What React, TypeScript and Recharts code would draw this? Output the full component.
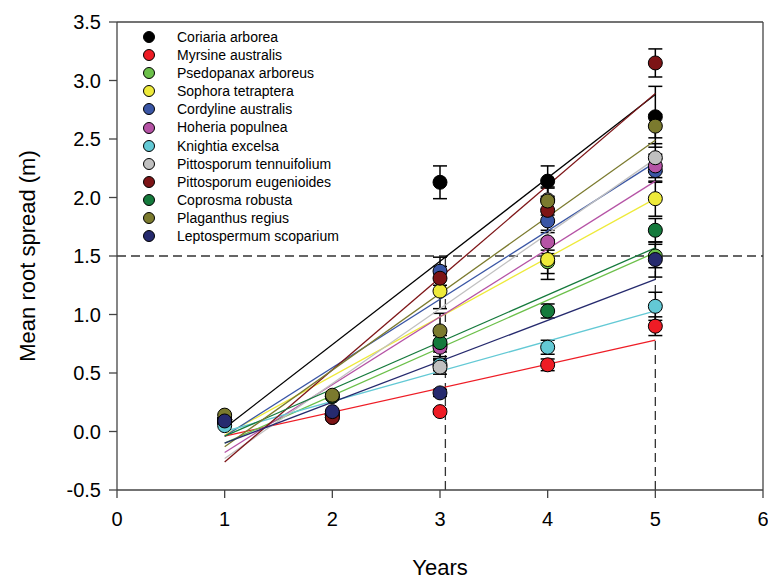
import { ComposedChart, Scatter, XAxis, YAxis, ErrorBar, ReferenceLine, Label } from "recharts";

const years = [1, 2, 3, 4, 5];
const species = [
  "Coriaria arborea",
  "Myrsine australis",
  "Psedopanax arboreus",
  "Sophora tetraptera",
  "Cordyline australis",
  "Hoheria populnea",
  "Knightia excelsa",
  "Pittosporum tennuifolium",
  "Pittosporum eugenioides",
  "Coprosma robusta",
  "Plaganthus regius",
  "Leptospermum scoparium",
];
const colors = [
  "#000000", "#ee1c25", "#6cc04a", "#eeea3a", "#3a56a5", "#b553a5",
  "#63c9d5", "#c0c0c0", "#7d1416", "#157a3c", "#7b7a2e", "#262a6e",
];
// mean root spread per species, years 1..5 (null = not measured)
const means: (number | null)[][] = [
  [0.10, 0.15, 2.13, 2.14, 2.69],
  [0.08, 0.12, 0.17, 0.57, 0.90],
  [0.08, 0.30, 0.74, 1.45, 1.50],
  [0.10, 0.15, 1.20, 1.47, 1.99],
  [0.10, 0.15, 1.37, 1.80, 2.23],
  [0.08, 0.14, 0.72, 1.62, 2.27],
  [0.05, 0.15, 0.57, 0.72, 1.07],
  [0.10, 0.14, 0.55, 1.98, 2.34],
  [0.10, 0.12, 1.31, 1.89, 3.15],
  [0.10, 0.30, 0.76, 1.03, 1.72],
  [0.14, 0.31, 0.86, 1.97, 2.61],
  [0.09, 0.17, 0.33, null, 1.47],
];
const errors: number[][] = [
  [0, 0, 0.14, 0.13, 0.26],
  [0, 0, 0.02, 0.05, 0.08],
  [0, 0, 0.10, 0.10, 0.10],
  [0, 0, 0.15, 0.17, 0.15],
  [0, 0, 0.12, 0.10, 0.10],
  [0, 0, 0.10, 0.10, 0.10],
  [0, 0, 0.05, 0.06, 0.12],
  [0, 0, 0.06, 0.10, 0.12],
  [0, 0, 0.10, 0.10, 0.12],
  [0, 0, 0.08, 0.06, 0.10],
  [0, 0, 0.15, 0.12, 0.10],
  [0, 0, 0.03, 0, 0.15],
];
// fitted regression lines, value at year 1 and year 5
const fitStart = [0.03, -0.04, -0.1, -0.03, -0.04, -0.18, 0.0, -0.23, -0.26, -0.04, -0.13, -0.1];
const fitEnd = [2.88, 0.78, 1.53, 1.99, 2.30, 2.14, 1.03, 2.33, 2.89, 1.57, 2.49, 1.30];
const xTicks = [0, 1, 2, 3, 4, 5, 6];
const yTicks = [-0.5, 0, 0.5, 1, 1.5, 2, 2.5, 3, 3.5];

const FONT = "'Liberation Sans', Arial, sans-serif";
const AXIS = "#444";

const pointSets = species.map((_, i) =>
  years
    .map((yr, j) => ({ x: yr, y: means[i][j], e: errors[i][j] }))
    .filter((p) => p.y !== null)
);
const lineSets = species.map((_, i) => [
  { x: years[0], y: fitStart[i] },
  { x: years[years.length - 1], y: fitEnd[i] },
]);

const noShape = () => <g />;

export default function App() {
  return (
    <div style={{ position: "absolute", left: 0, top: 0, width: 768, height: 581, fontFamily: FONT }}>
      <ComposedChart width={768} height={581} margin={{ top: 22, right: 5, left: 0, bottom: 0 }}>
        <XAxis
          type="number"
          dataKey="x"
          domain={[0, 6]}
          ticks={xTicks}
          allowDataOverflow
          height={91}
          stroke={AXIS}
          strokeWidth={1.3}
          tickSize={8}
          tickMargin={14}
          tick={{ fontSize: 20, fill: "#000", fontFamily: FONT }}
        >
          <Label value="Years" position="insideBottom" offset={6} style={{ fontSize: 22, fill: "#000", fontFamily: FONT }} />
        </XAxis>
        <YAxis
          type="number"
          dataKey="y"
          domain={[-0.5, 3.5]}
          ticks={yTicks}
          allowDataOverflow
          width={117}
          stroke={AXIS}
          strokeWidth={1.3}
          tickSize={8}
          tickMargin={8}
          tickFormatter={(v: number) => v.toFixed(1)}
          tick={{ fontSize: 20, fill: "#000", fontFamily: FONT }}
        >
          <Label
            content={() => (
              <text
                x={27}
                y={256}
                transform="rotate(-90, 27, 256)"
                textAnchor="middle"
                dominantBaseline="central"
                style={{ fontSize: 22, fill: "#000", fontFamily: FONT }}
              >
                Mean root spread (m)
              </text>
            )}
          />
        </YAxis>
        <ReferenceLine y={3.5} stroke={AXIS} strokeWidth={1.3} />
        <ReferenceLine x={6} stroke={AXIS} strokeWidth={1.3} />
        <ReferenceLine y={1.5} stroke="#333" strokeWidth={1.3} strokeDasharray="9 5" />
        <ReferenceLine segment={[{ x: 3.05, y: -0.5 }, { x: 3.05, y: 1.5 }]} stroke="#333" strokeWidth={1.3} strokeDasharray="9 5" />
        <ReferenceLine segment={[{ x: 5, y: -0.5 }, { x: 5, y: 1.5 }]} stroke="#333" strokeWidth={1.3} strokeDasharray="9 5" />
        {lineSets.map((d, i) => (
          <Scatter
            key={"fit" + i}
            data={d}
            line={{ stroke: colors[i], strokeWidth: 1.3 }}
            shape={noShape}
            isAnimationActive={false}
          />
        ))}
        {pointSets.map((d, i) => (
          <Scatter
            key={"pts" + i}
            data={d}
            fill={colors[i]}
            isAnimationActive={false}
            shape={(p: any) => (
              <circle cx={p.cx} cy={p.cy} r={7} fill={colors[i]} stroke="#000" strokeWidth={1} />
            )}
          >
            <ErrorBar dataKey="e" direction="y" width={7} stroke="#000" strokeWidth={1.5} />
          </Scatter>
        ))}
      </ComposedChart>
      <div style={{ position: "absolute", left: 143, top: 28, fontSize: 14, lineHeight: "18.1px", color: "#000" }}>
        {species.map((s, i) => (
          <div key={s} style={{ display: "flex", alignItems: "center", height: 18.1 }}>
            <span
              style={{
                display: "inline-block",
                width: 12,
                height: 12,
                borderRadius: "50%",
                background: colors[i],
                border: "1px solid #000",
                boxSizing: "border-box",
                marginRight: 22,
              }}
            />
            <span>{s}</span>
          </div>
        ))}
      </div>
    </div>
  );
}
